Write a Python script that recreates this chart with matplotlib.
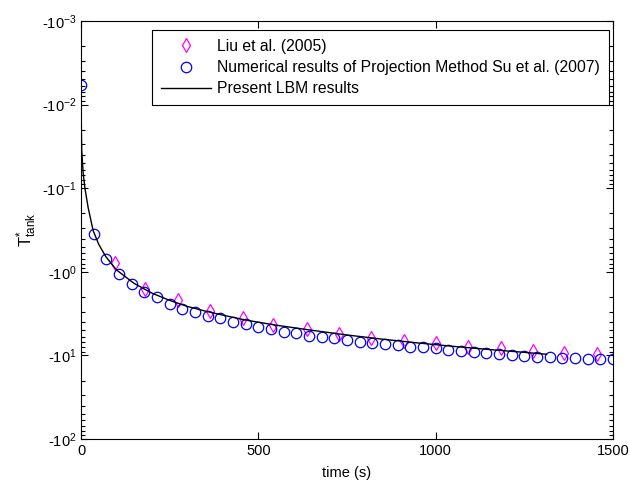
import matplotlib
matplotlib.use("Agg")
import matplotlib.pyplot as plt
from matplotlib.ticker import FixedLocator, FuncFormatter, NullFormatter
import numpy as np

plt.rcParams['font.family'] = ['Liberation Sans', 'DejaVu Sans']
plt.rcParams['mathtext.fontset'] = 'custom'
plt.rcParams['mathtext.rm'] = 'Liberation Sans'
plt.rcParams['mathtext.it'] = 'Liberation Sans'
plt.rcParams['mathtext.default'] = 'regular'

# Liu et al. (2005): time (s), magnitude of T* (T* = -value)
liu_t = [96, 180, 273, 364, 456, 541, 637, 727, 818, 911, 1001, 1091, 1184, 1274, 1362, 1455]
liu_v = [0.785, 1.61, 2.17, 2.95, 3.6, 4.33, 4.88, 5.55, 6.25, 6.73, 7.17, 8.0, 8.2, 8.8, 9.45, 9.6]

# Su et al. (2007) projection method
su_t = [0, 35.7, 71.4, 107.1, 142.9, 178.6, 214.3, 250, 285.7, 321.4, 357.1, 392.9, 428.6,
        464.3, 500, 535.7, 571.4, 607.1, 642.9, 678.6, 714.3, 750, 785.7, 821.4, 857.1,
        892.9, 928.6, 964.3, 1000, 1035.7, 1071.4, 1107.1, 1142.9, 1178.6, 1214.3, 1250,
        1285.7, 1321.4, 1357.1, 1392.9, 1428.6, 1464.3, 1500]
su_v = [0.0059, 0.35, 0.70, 1.06, 1.40, 1.75, 2.0, 2.43, 2.79, 3.0, 3.39, 3.57, 3.98,
        4.21, 4.53, 4.88, 5.2, 5.44, 5.86, 5.97, 6.25, 6.54, 6.85, 7.04, 7.31, 7.52, 7.87,
        8.01, 8.23, 8.61, 8.85, 9.02, 9.28, 9.7, 9.89, 10.07, 10.35, 10.45, 10.65, 10.84,
        10.94, 11.1, 11.1]

# Present LBM results
lbm_t = [0, 1, 2, 6, 11, 20, 34, 50, 70, 100, 150, 200, 250, 300, 350, 400, 464, 550,
         650, 750, 850, 950, 1050, 1150, 1250, 1313]
lbm_v = [0.006, 0.02, 0.035, 0.066, 0.1, 0.17, 0.32, 0.47, 0.66, 0.95, 1.38, 1.8, 2.2,
         2.6, 2.95, 3.3, 3.78, 4.35, 5.0, 5.7, 6.4, 7.1, 7.8, 8.5, 9.2, 9.7]

xticks = [0, 500, 1000, 1500]
ydecades = [-3, -2, -1, 0, 1, 2]

fig = plt.figure(figsize=(6.3, 4.87), dpi=100)
ax = fig.add_axes([0.1286, 0.0986, 0.8444, 0.8583])

ax.plot(liu_t, liu_v, linestyle='none', marker='d', markersize=7.5, markerfacecolor='none',
        markeredgecolor='#ff00ff', markeredgewidth=0.9, label='Liu et al. (2005)')
ax.plot(su_t, su_v, linestyle='none', marker='o', markersize=7.5, markerfacecolor='none',
        markeredgecolor='#0000ff', markeredgewidth=0.9,
        label='Numerical results of Projection Method Su et al. (2007)')
ax.plot(lbm_t, lbm_v, color='black', linewidth=1.0, label='Present LBM results')

ax.set_yscale('log')
ax.set_ylim(1e2, 1e-3)
ax.set_xlim(0, 1500)
ax.set_xticks(xticks)
ax.xaxis.set_major_formatter(FuncFormatter(lambda v, p: '%d' % v))
ax.yaxis.set_major_locator(FixedLocator([10.0 ** d for d in ydecades]))
ax.yaxis.set_major_formatter(FuncFormatter(lambda v, p: r'-10$^{%d}$' % int(round(np.log10(v)))))
minors = [m * 10.0 ** d for d in ydecades[:-1] for m in range(2, 10)]
ax.yaxis.set_minor_locator(FixedLocator(minors))
ax.yaxis.set_minor_formatter(NullFormatter())

ax.tick_params(which='both', direction='in', top=True, right=True, labelsize=10.5, width=0.8)
ax.tick_params(which='major', length=5)
ax.tick_params(which='minor', length=3)
for s in ax.spines.values():
    s.set_linewidth(0.8)

ax.set_xlabel('time (s)', fontsize=10.5, labelpad=6)
ax.set_ylabel(r'T$^{*}_{tank}$', fontsize=12, labelpad=2)

leg = ax.legend(loc='upper right', bbox_to_anchor=(0.992, 0.978), fontsize=11.3,
                frameon=True, fancybox=False, edgecolor='black', framealpha=1,
                handlelength=3.2, borderpad=0.55, labelspacing=0.4, handletextpad=0.4,
                borderaxespad=0)
leg.get_frame().set_linewidth(0.8)

fig.savefig('out.png', dpi=100)
